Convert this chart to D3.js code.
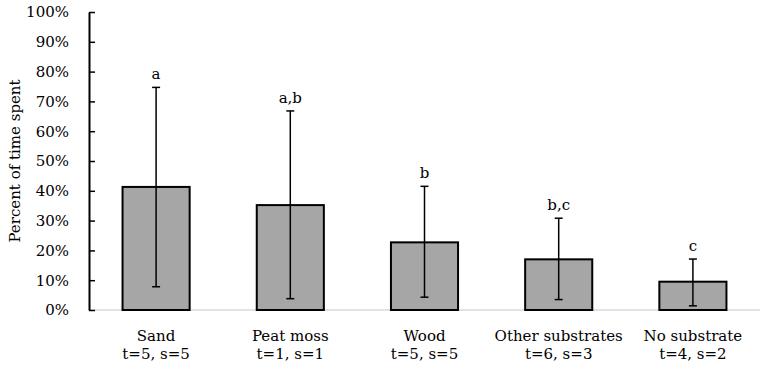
<!DOCTYPE html>
<html>
<head>
<meta charset="utf-8">
<script src="https://cdn.jsdelivr.net/npm/d3@7"></script>
<style>
  body { margin: 0; background: #fff; }
  text { font-family: "DejaVu Serif", serif; fill: #000; }
</style>
</head>
<body>
<div id="chart"></div>
<script>
// data
const categories = ["Sand", "Peat moss", "Wood", "Other substrates", "No substrate"];
const subLabels = ["t=5, s=5", "t=1, s=1", "t=5, s=5", "t=6, s=3", "t=4, s=2"];
const means = [41.3, 35.2, 22.7, 17.0, 9.5];
const errHigh = [74.7, 66.8, 41.5, 30.8, 17.1];
const errLow = [7.8, 3.8, 4.3, 3.5, 1.4];
const letters = ["a", "a,b", "b", "b,c", "c"];
const yTicks = [0, 10, 20, 30, 40, 50, 60, 70, 80, 90, 100];

const width = 765, height = 371;
const margin = {top: 12, right: 5, bottom: 61, left: 89};

const svg = d3.select("#chart").append("svg")
    .attr("width", width)
    .attr("height", height);

const x = d3.scaleBand()
    .domain(categories)
    .range([margin.left, width - margin.right])
    .paddingInner(0.5)
    .paddingOuter(0.25);

const y = d3.scaleLinear().domain([0, 100]).range([height - margin.bottom, margin.top]);

// baseline
svg.append("line")
    .attr("x1", margin.left).attr("x2", width - margin.right)
    .attr("y1", y(0)).attr("y2", y(0))
    .attr("stroke", "#d9d9d9").attr("stroke-width", 1.5);

// y axis, ticks point inward
const yAxis = svg.append("g")
    .attr("transform", `translate(${margin.left},0)`)
    .call(d3.axisRight(y).tickValues(yTicks).tickFormat(d => d + "%").tickSize(6).tickSizeOuter(0));
yAxis.select(".domain").attr("stroke", "#000").attr("stroke-width", 2);
yAxis.selectAll(".tick line").attr("stroke", "#000").attr("stroke-width", 1.5);
yAxis.selectAll(".tick text")
    .attr("x", -20)
    .attr("text-anchor", "end")
    .style("font-size", "15px")
    .style("font-family", "DejaVu Serif, serif");

svg.append("text")
    .attr("transform", `translate(20, ${(y(0) + y(100)) / 2}) rotate(-90)`)
    .attr("text-anchor", "middle")
    .style("font-size", "15px")
    .text("Percent of time spent");

// bars
svg.selectAll(".bar")
    .data(categories)
    .enter()
    .append("rect")
    .attr("class", "bar")
    .attr("x", d => x(d))
    .attr("width", x.bandwidth())
    .attr("y", (d, i) => y(means[i]))
    .attr("height", (d, i) => y(0) - y(means[i]))
    .attr("fill", "#a6a6a6")
    .attr("stroke", "#000")
    .attr("stroke-width", 2);

// error bars
const eb = svg.selectAll(".err")
    .data(categories)
    .enter()
    .append("g")
    .attr("class", "err")
    .attr("stroke", "#000")
    .attr("stroke-width", 1.5);

eb.append("line")
    .attr("x1", d => x(d) + x.bandwidth() / 2)
    .attr("x2", d => x(d) + x.bandwidth() / 2)
    .attr("y1", (d, i) => y(errLow[i]))
    .attr("y2", (d, i) => y(errHigh[i]));
eb.append("line")
    .attr("x1", d => x(d) + x.bandwidth() / 2 - 4)
    .attr("x2", d => x(d) + x.bandwidth() / 2 + 4)
    .attr("y1", (d, i) => y(errHigh[i]))
    .attr("y2", (d, i) => y(errHigh[i]));
eb.append("line")
    .attr("x1", d => x(d) + x.bandwidth() / 2 - 4)
    .attr("x2", d => x(d) + x.bandwidth() / 2 + 4)
    .attr("y1", (d, i) => y(errLow[i]))
    .attr("y2", (d, i) => y(errLow[i]));

// significance letters
svg.selectAll(".letter")
    .data(categories)
    .enter()
    .append("text")
    .attr("class", "letter")
    .attr("x", d => x(d) + x.bandwidth() / 2)
    .attr("y", (d, i) => y(errHigh[i]) - 8)
    .attr("text-anchor", "middle")
    .style("font-size", "15px")
    .text((d, i) => letters[i]);

// category labels
const lab = svg.selectAll(".cat")
    .data(categories)
    .enter()
    .append("text")
    .attr("class", "cat")
    .attr("text-anchor", "middle")
    .style("font-size", "15px");
lab.append("tspan")
    .attr("x", d => x(d) + x.bandwidth() / 2)
    .attr("y", 341)
    .text(d => d);
lab.append("tspan")
    .attr("x", d => x(d) + x.bandwidth() / 2)
    .attr("y", 359)
    .text((d, i) => subLabels[i]);
</script>
</body>
</html>
